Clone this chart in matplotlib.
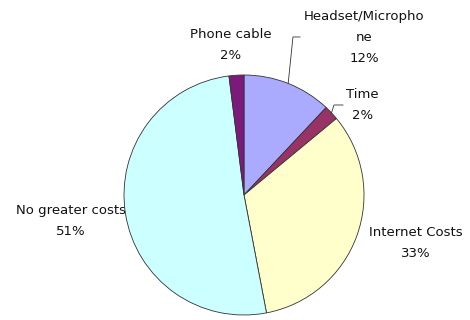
import numpy as np
import matplotlib
matplotlib.use('Agg')
import matplotlib.pyplot as plt

# 额外费用构成
labels = ['Headset/Micropho\nne', 'Time', 'Internet Costs', 'No greater costs', 'Phone cable']
shares = [12, 2, 33, 51, 2]
colors = ['#aaaaff', '#993366', '#ffffcc', '#ccffff', '#7b1a7b']

plt.rcParams['font.family'] = ['DejaVu Sans']

fig = plt.figure(figsize=(4.7, 3.2), dpi=100)
ax = fig.add_axes([124 / 470, 5 / 320, 240 / 470, 240 / 320])

wedges, _ = ax.pie(shares, colors=colors, startangle=90, counterclock=False,
                   wedgeprops=dict(edgecolor='#333333', linewidth=0.6))
ax.set_xlim(-1, 1)
ax.set_ylim(-1, 1)
ax.set_aspect('equal')
ax.axis('off')

# 标签位置（数据坐标）
label_pos = [(1.0, 1.31), (0.99, 0.75), (1.43, -0.40), (-1.44, -0.217), (-0.108, 1.25)]
for lab, val, (x, y) in zip(labels, shares, label_pos):
    t = ax.text(x, y, f'{lab}\n{val}%', ha='center', va='center', fontsize=9.5,
                linespacing=1.8, color='#111111', zorder=0)
    t.set_clip_on(False)

# 引导线：从标签拐到扇形外沿中点
def rim(w):
    a = np.deg2rad((w.theta1 + w.theta2) / 2)
    return np.cos(a), np.sin(a)

hx, hy = rim(wedges[0])
ax.plot([0.467, 0.408, hx], [1.317, 1.317, hy], color='#333333', lw=0.6, clip_on=False)
tx, ty = rim(wedges[1])
ax.plot([0.825, 0.75, tx], [0.75, 0.75, ty], color='#333333', lw=0.6, clip_on=False)

fig.savefig('out.png', dpi=100, facecolor='white')
